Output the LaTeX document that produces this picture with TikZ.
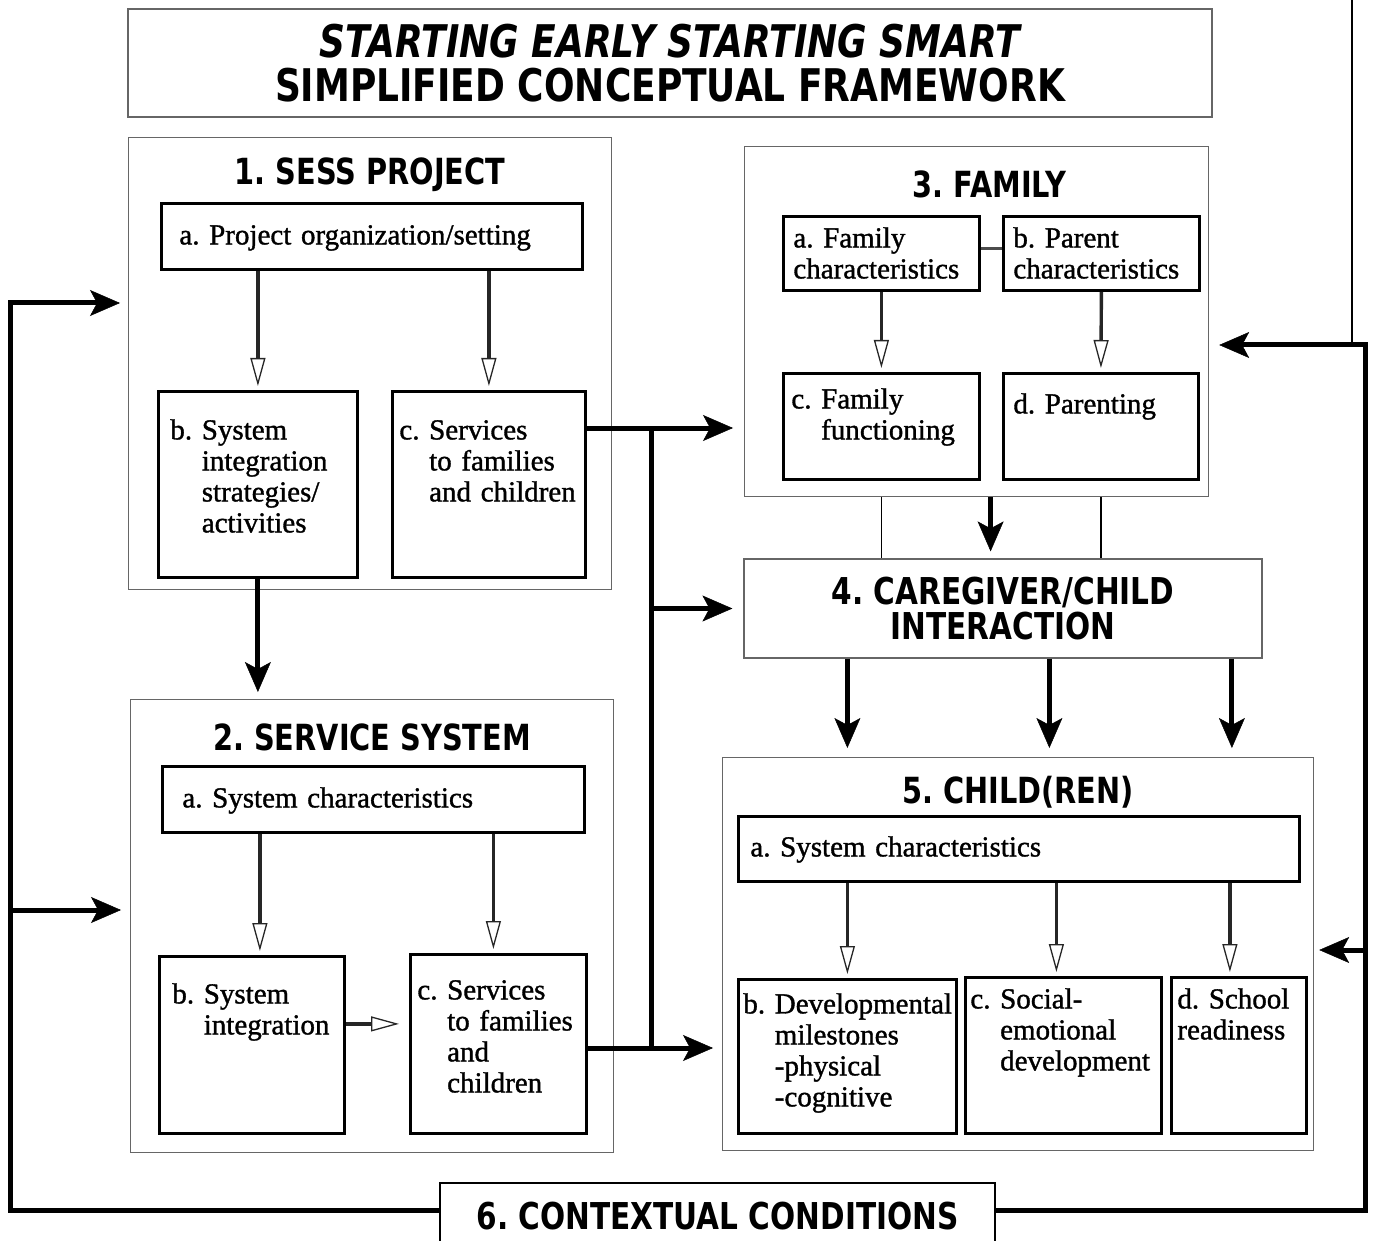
\documentclass[tikz,border=0pt]{standalone}
\usepackage{fontspec}
\setmainfont{Liberation Serif}[FakeBold=1.2]
\newfontfamily\headfont{DejaVu Sans}[FakeStretch=0.8]
\usepackage{tikz}
\usetikzlibrary{arrows.meta, positioning}
\frenchspacing

% label with hanging lines
\newcommand{\itm}[2]{\begin{tabular}[t]{@{}l@{ }l@{}}#1&\begin{tabular}[t]{@{}l@{}}#2\end{tabular}\end{tabular}}

\tikzset{
  frame/.style={draw=black!60, line width=1.2pt, anchor=north west, inner sep=0pt},
  sub/.style={draw, line width=2.8pt, anchor=north west, align=left, inner ysep=0pt, inner xsep=8pt,
    font=\fontsize{29}{31}\selectfont},
  head/.style={anchor=base, inner sep=0pt, font=\headfont\bfseries\fontsize{36}{36}\selectfont},
  fat/.style={line width=5pt},
  bigtip/.style={-{Stealth[length=30pt, width=26pt, inset=7pt, line width=0.5pt]}},
  hollow/.style={draw=black!85, line width=3.4pt,
    -{Triangle[open, length=28pt, width=15pt, line width=1.3pt]}, shorten >=4pt}
}

\begin{document}
\begin{tikzpicture}[x=1pt, y=-1pt]
\useasboundingbox (0,0) rectangle (1374,1241);
\clip (0,0) rectangle (1374,1241);

% title
\node[frame, anchor=center, minimum width=1084pt, minimum height=108pt, align=center,
  font=\headfont\bfseries\fontsize{45}{44}\selectfont] (title) at (670,63)
  {{\itshape STARTING EARLY STARTING SMART}\\SIMPLIFIED CONCEPTUAL FRAMEWORK};

% 1. SESS project
\node[frame, minimum width=483pt, minimum height=452pt] (sess) at (128,137) {};
\node[head] (sessT) at ([yshift=-48pt]sess.north) {1. SESS PROJECT};
\node[sub, inner xsep=18pt, text width=385pt, text height=41pt, text depth=25pt] (s1a) at (160,202)
  {a. Project organization/setting};
\node[sub, inner xsep=12pt, text width=175pt, text height=48pt, text depth=138pt] (s1b) at (157,390)
  {\itm{b.}{System\\integration\\strategies/\\activities}};
\node[sub, inner xsep=7pt, text width=179pt, text height=48pt, text depth=138pt] (s1c) at (391,390)
  {\itm{c.}{Services\\to families\\and children}};

% 2. service system
\node[frame, minimum width=483pt, minimum height=453pt] (servsys) at (130,699) {};
\node[head] (servsysT) at ([yshift=-51pt]servsys.north) {2. SERVICE SYSTEM};
\node[sub, inner xsep=20pt, text width=382pt, text height=41pt, text depth=25pt] (s2a) at (161,765)
  {a. System characteristics};
\node[sub, inner xsep=13pt, text width=159pt, text height=47pt, text depth=130pt] (s2b) at (158,955)
  {\itm{b.}{System\\integration}};
\node[sub, inner xsep=7pt, text width=162pt, text height=45pt, text depth=134pt] (s2c) at (409,953)
  {\itm{c.}{Services\\to families\\and\\children}};

% 3. family
\node[frame, minimum width=464pt, minimum height=350pt] (family) at (744,146) {};
\node[head] (familyT) at ([xshift=13pt, yshift=-52pt]family.north) {3. FAMILY};
\node[sub, inner xsep=10pt, text width=176pt, text height=31pt, text depth=43pt] (f3a) at (782,215)
  {a. Family\\characteristics};
\node[sub, inner xsep=10pt, text width=176pt, text height=31pt, text depth=43pt] (f3b) at (1002,215)
  {b. Parent\\characteristics};
\node[sub, inner xsep=8pt, text width=180pt, text height=35pt, text depth=71pt] (f3c) at (782,372)
  {\itm{c.}{Family\\functioning}};
\node[sub, inner xsep=10pt, text width=175pt, text height=40pt, text depth=66pt] (f3d) at (1002,372)
  {d. Parenting};

% 4. caregiver/child
\node[frame, anchor=center, minimum width=518pt, minimum height=99pt, align=center,
  font=\headfont\bfseries\fontsize{37}{35}\selectfont] (care) at (1003,608.5)
  {4. CAREGIVER/CHILD\\INTERACTION};

% 5. child(ren)
\node[frame, minimum width=591pt, minimum height=393pt] (child) at (722,757) {};
\node[head] (childT) at ([yshift=-46pt]child.north) {5. CHILD(REN)};
\node[sub, inner xsep=12pt, text width=537pt, text height=40pt, text depth=25pt] (c5a) at (737,815)
  {a. System characteristics};
\node[sub, inner xsep=5pt, text width=208pt, text height=34pt, text depth=120pt] (c5b) at (737,978)
  {\itm{b.}{Developmental\\milestones\\-physical\\-cognitive}};
\node[sub, inner xsep=5pt, text width=186pt, text height=31pt, text depth=125pt] (c5c) at (964,976)
  {\itm{c.}{Social-\\emotional\\development}};
\node[sub, inner xsep=6pt, text width=123pt, text height=31pt, text depth=125pt] (c5d) at (1170,976)
  {d. School\\readiness};

% 6. contextual conditions
\node[draw, line width=2.8pt, minimum width=555pt, minimum height=66pt,
  font=\headfont\bfseries\fontsize{37}{37}\selectfont] (ctx) at (717.5,1216) {6. CONTEXTUAL CONDITIONS};

% arrows inside the boxes
\draw[hollow] (s1a.south -| s1b.north) -- (s1b.north);
\draw[hollow] (s1a.south -| s1c.north) -- (s1c.north);
\draw[hollow] ([xshift=8pt]s2a.south -| s2b.north) -- ([xshift=8pt]s2b.north);
\draw[hollow] ([xshift=-5pt]s2a.south -| s2c.north) -- ([xshift=-5pt]s2c.north);
\draw[hollow, shorten >=10pt] ([yshift=21pt]s2b.east) -- ([yshift=21pt]s2b.east -| s2c.west);
\draw[hollow] (f3a.south) -- (f3c.north);
\draw[hollow] (f3b.south) -- (f3d.north);
\draw[hollow] (c5a.south -| c5b.north) -- (c5b.north);
\draw[hollow] ([xshift=-7pt]c5a.south -| c5c.north) -- ([xshift=-7pt]c5c.north);
\draw[hollow] ([xshift=-9pt]c5a.south -| c5d.north) -- ([xshift=-9pt]c5d.north);
\draw[draw=black!70, line width=2.4pt] ([yshift=5pt]f3a.east) -- ([yshift=5pt]f3a.east -| f3b.west);

% main flow
\coordinate (bus1) at (651,428);
\coordinate (bus2) at (651,1048);
\draw[fat, bigtip, shorten >=7pt] (s1b.south) -- (s1b.south |- servsys.north);
\draw[fat, bigtip, shorten >=11pt] (s1c.east |- bus1) -- (bus1 -| family.west);
\draw[fat] (bus1) -- (bus2);
\draw[fat, bigtip, shorten >=11pt] (bus1 |- care.west) -- (care.west);
\draw[fat, bigtip, shorten >=9pt] (s2c.east |- bus2) -- (bus2 -| child.west);
\draw[fat, bigtip, shorten >=7pt] ([xshift=14pt]family.south) -- ([xshift=14pt]family.south |- care.north);
\draw[line width=1.5pt] (f3c.south |- family.south) -- (f3c.south |- care.north);
\draw[line width=1.5pt] (f3d.south |- family.south) -- (f3d.south |- care.north);
\draw[fat, bigtip, shorten >=9pt] (care.south -| c5b.north) -- (c5b.north |- child.north);
\draw[fat, bigtip, shorten >=9pt] ([xshift=-14pt]care.south -| c5c.north) -- ([xshift=-14pt]c5c.north |- child.north);
\draw[fat, bigtip, shorten >=9pt] ([xshift=-7pt]care.south -| c5d.north) -- ([xshift=-7pt]c5d.north |- child.north);

% context feedback
\coordinate (lt) at (10,303);
\coordinate (lb) at (10,910);
\coordinate (rt) at (1365,345);
\coordinate (rb) at (1365,950);
\coordinate (topin) at (1352,0);
\draw[fat, bigtip, shorten >=8pt] ([yshift=6pt]ctx.west) -| (lt) -- (lt -| sess.west);
\draw[fat, bigtip, shorten >=9pt] (lb) -- (lb -| servsys.west);
\draw[fat, bigtip, shorten >=10pt] ([yshift=6pt]ctx.east) -| (rt) -- (rt -| family.east);
\draw[fat, bigtip, shorten >=5pt] (rb) -- (rb -| child.east);
\draw[line width=1.5pt] (topin) -- (topin |- rt);
\end{tikzpicture}
\end{document}
